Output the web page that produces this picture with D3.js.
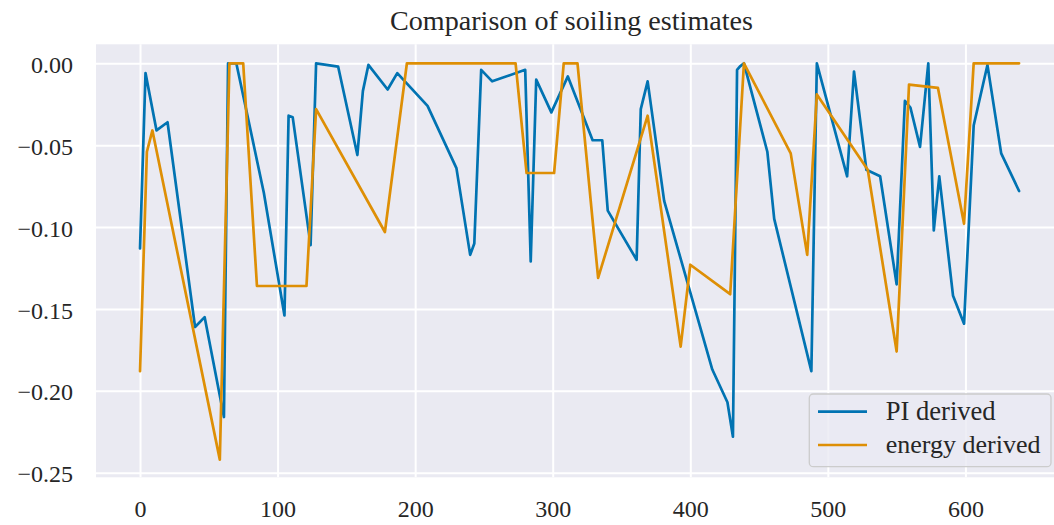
<!DOCTYPE html>
<html>
<head>
<meta charset="utf-8">
<script src="https://cdn.jsdelivr.net/npm/d3@7"></script>
<style>
  html, body { margin: 0; padding: 0; background: #ffffff; }
  svg { display: block; }
  text { font-family: "Liberation Serif", "DejaVu Serif", serif; fill: #262626; }
</style>
</head>
<body>
<svg id="chart" width="1054" height="525"></svg>
<script>
// Soiling estimates: PI-derived and energy-derived, by day index
const piDays = [0, 4, 12, 20, 40, 47, 61, 64, 70, 90, 105, 108, 111, 124, 128, 144, 158, 162, 166,
  180, 187, 209, 230, 240, 243, 248, 256, 280, 284, 288, 299, 311, 329, 336, 340, 361, 364, 369,
  381, 416, 427, 431, 434, 436, 439, 456, 461, 488, 492, 514, 519, 528, 538, 550, 556, 560, 567,
  573, 577, 581, 591, 599, 606, 616, 626, 639];
const piSoiling = [-0.113, -0.006, -0.041, -0.036, -0.161, -0.155, -0.216, 0.000, 0.000, -0.079,
  -0.154, -0.032, -0.033, -0.111, 0.000, -0.002, -0.056, -0.017, -0.001, -0.016, -0.006, -0.026,
  -0.064, -0.117, -0.110, -0.004, -0.011, -0.004, -0.121, -0.010, -0.030, -0.008, -0.047, -0.047,
  -0.090, -0.120, -0.028, -0.011, -0.084, -0.187, -0.207, -0.228, -0.004, -0.002, 0.000, -0.054,
  -0.095, -0.188, 0.000, -0.069, -0.005, -0.065, -0.069, -0.135, -0.023, -0.027, -0.051, 0.000,
  -0.102, -0.069, -0.142, -0.159, -0.038, -0.001, -0.055, -0.078];

const energyDays = [0, 5, 9, 58, 65, 75, 85, 121, 128, 178, 194, 273, 281, 301, 308, 318, 333,
  369, 393, 400, 429, 439, 473, 485, 492, 529, 550, 559, 580, 599, 606, 639];
const energySoiling = [-0.188, -0.054, -0.041, -0.242, 0.000, 0.000, -0.136, -0.136, -0.028,
  -0.103, 0.000, 0.000, -0.067, -0.067, 0.000, 0.000, -0.131, -0.032, -0.173, -0.123, -0.141,
  0.000, -0.055, -0.117, -0.019, -0.065, -0.176, -0.013, -0.015, -0.098, 0.000, 0.000];

const seriesNames = ["PI derived", "energy derived"];
const seriesColors = ["#0173b2", "#de8f05"];
const xTicks = [0, 100, 200, 300, 400, 500, 600];
const yTicks = [0.00, -0.05, -0.10, -0.15, -0.20, -0.25];
const titleText = "Comparison of soiling estimates";

const svg = d3.select("#chart");
const W = 1054, H = 525;
const plot = { left: 96, right: 1063.1, top: 44.3, bottom: 477.3 };

svg.append("rect").attr("width", W).attr("height", H).attr("fill", "#ffffff");

const x = d3.scaleLinear().domain([-32, 671]).range([plot.left, plot.right]);
const y = d3.scaleLinear().domain([-0.2528, 0.0116]).range([plot.bottom, plot.top]);

// axes background
svg.append("rect")
  .attr("x", plot.left).attr("y", plot.top)
  .attr("width", plot.right - plot.left).attr("height", plot.bottom - plot.top)
  .attr("fill", "#eaeaf2");

const tickFont = 24;

// x axis with full-height white grid lines
const gx = svg.append("g")
  .attr("transform", `translate(0,${plot.bottom})`)
  .call(d3.axisBottom(x).tickValues(xTicks).tickFormat(d3.format("d"))
    .tickSize(-(plot.bottom - plot.top)).tickPadding(0));
gx.select(".domain").remove();
gx.selectAll(".tick line").attr("stroke", "#ffffff").attr("stroke-width", 2);
gx.selectAll(".tick text")
  .attr("y", 517 - plot.bottom).attr("dy", null)
  .attr("font-size", tickFont)
  .style("font-family", '"Liberation Serif", serif').attr("fill", "#262626");

// y axis with full-width white grid lines
const gy = svg.append("g")
  .attr("transform", `translate(${plot.left},0)`)
  .call(d3.axisLeft(y).tickValues(yTicks).tickFormat(d3.format(".2f"))
    .tickSize(-(plot.right - plot.left)).tickPadding(0));
gy.select(".domain").remove();
gy.selectAll(".tick line").attr("stroke", "#ffffff").attr("stroke-width", 2);
gy.selectAll(".tick text")
  .attr("x", 73 - plot.left).attr("dy", "0.38em")
  .attr("font-size", tickFont)
  .style("font-family", '"Liberation Serif", serif').attr("fill", "#262626");

// series lines
svg.append("clipPath").attr("id", "plotClip")
  .append("rect")
  .attr("x", plot.left).attr("y", plot.top)
  .attr("width", plot.right - plot.left).attr("height", plot.bottom - plot.top);

const line = d3.line().x(d => x(d[0])).y(d => y(d[1]));
const series = [
  d3.zip(piDays, piSoiling),
  d3.zip(energyDays, energySoiling)
];
const lineWidth = 2.7;
const linesG = svg.append("g").attr("clip-path", "url(#plotClip)");
series.forEach((pts, i) => {
  linesG.append("path")
    .datum(pts)
    .attr("d", line)
    .attr("fill", "none")
    .attr("stroke", seriesColors[i])
    .attr("stroke-width", lineWidth)
    .attr("stroke-linejoin", "round")
    .attr("stroke-linecap", "round");
});

// helper: size text so it spans a given width
function fitText(sel, targetWidth, base) {
  sel.attr("font-size", base);
  const len = sel.node().getComputedTextLength();
  if (len > 0) sel.attr("font-size", base * targetWidth / len);
}

// title
const title = svg.append("text")
  .attr("x", 571.5).attr("y", 30)
  .attr("text-anchor", "middle")
  .text(titleText);
fitText(title, 363, 24);

// legend
const legend = svg.append("g");
legend.append("rect")
  .attr("x", 809.3).attr("y", 394)
  .attr("width", 241.7).attr("height", 72.7)
  .attr("rx", 4).attr("ry", 4)
  .attr("fill", "#eaeaf2").attr("fill-opacity", 0.8)
  .attr("stroke", "#cccccc").attr("stroke-width", 1.3);

const rowY = [411.7, 445];
const baseY = [420, 453.3];
const textW = [110, 155];
seriesNames.forEach((name, i) => {
  legend.append("line")
    .attr("x1", 818).attr("x2", 867)
    .attr("y1", rowY[i]).attr("y2", rowY[i])
    .attr("stroke", seriesColors[i]).attr("stroke-width", lineWidth);
  const t = legend.append("text")
    .attr("x", 885.7).attr("y", baseY[i])
    .text(name);
  fitText(t, textW[i], 24);
});
</script>
</body>
</html>
